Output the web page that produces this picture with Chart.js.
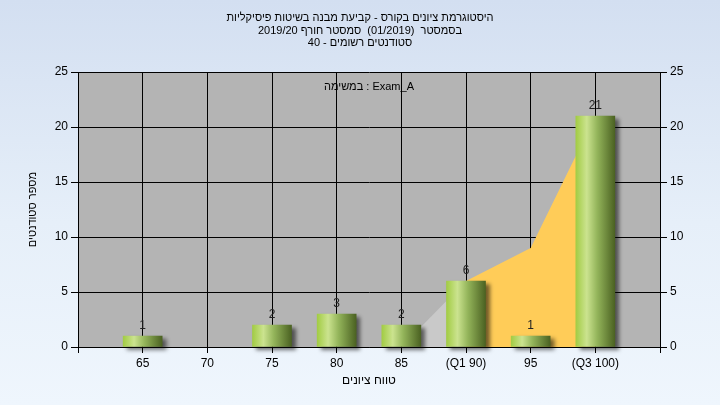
<!DOCTYPE html>
<html>
<head>
<meta charset="utf-8">
<script src="https://cdn.jsdelivr.net/npm/chart.js@4.4.1/dist/chart.umd.min.js"></script>
<style>
  html, body { margin: 0; padding: 0; }
  body {
    width: 720px; height: 405px; overflow: hidden;
    background: linear-gradient(to bottom, #d3dff1 0%, #e6eff9 55%, #eff6fd 100%);
  }
  #wrap { position: relative; width: 720px; height: 405px; }
</style>
</head>
<body>
<div id="wrap"><canvas id="chart" width="720" height="405"></canvas></div>
<script>
// Title lines
const titleLines = [
  'היסטוגרמת ציונים בקורס - קביעת מבנה בשיטות פיסיקליות',
  'בסמסטר  (01/2019)  סמסטר חורף 2019/20',
  'סטודנטים רשומים - 40'
];
const taskLabel = 'במשימה : Exam_A';
const xAxisTitle = 'טווח ציונים';
const yAxisTitle = 'מספר סטודנטים';

// Grade bins and student counts per bin
const gradeBins = ['65', '70', '75', '80', '85', '(Q1 90)', '95', '(Q3 100)'];
const studentCounts = [1, 0, 2, 3, 2, 6, 1, 21];
// Spread band drawn behind the bars (shaded from Q1 onwards)
const quartileBand = [0, 0, 0, 0, 0, 6, 9, 21];
const q1Index = 5;

// Count axis
const yMin = 0, yMax = 25, yStep = 5;

// One empty slot on each side so the bins sit inside the frame
const axisLabels = [''].concat(gradeBins, ['']);
const pad = arr => [null].concat(arr, [null]);

const FONT = '"Liberation Sans", Arial, "DejaVu Sans", sans-serif';
Chart.defaults.font.family = FONT;
Chart.defaults.color = '#000';

const BAR_W = 39;
const colors = {
  plot: '#b4b4b4',
  bandGray: '#c9c9c9',
  bandYellow: '#ffcc58',
  grid: '#000'
};

function barGradient(context) {
  const chart = context.chart;
  const x = chart.scales && chart.scales.x;
  if (context.raw === 0) return 'rgba(0,0,0,0)';
  if (!x || context.dataIndex == null) return '#9cc84a';
  const cx = x.getPixelForValue(context.dataIndex);
  if (!isFinite(cx)) return '#9cc84a';
  const g = chart.ctx.createLinearGradient(cx - BAR_W / 2, 0, cx + BAR_W / 2, 0);
  g.addColorStop(0.00, '#a2cc44');
  g.addColorStop(0.28, '#cbe38f');
  g.addColorStop(0.55, '#93b45a');
  g.addColorStop(1.00, '#4b6222');
  return g;
}

const plotBackground = {
  id: 'plotBackground',
  beforeDraw(chart) {
    const { ctx, chartArea: a } = chart;
    ctx.save();
    ctx.fillStyle = colors.plot;
    ctx.fillRect(a.left, a.top, a.right - a.left, a.bottom - a.top);
    ctx.restore();
  }
};

const taskCaption = {
  id: 'taskCaption',
  beforeDatasetsDraw(chart) {
    const { ctx, chartArea: a } = chart;
    ctx.save();
    ctx.font = '11px ' + FONT;
    ctx.fillStyle = '#000';
    ctx.textAlign = 'center';
    ctx.textBaseline = 'middle';
    ctx.fillText(taskLabel, (a.left + a.right) / 2, a.top + 14.5);
    ctx.restore();
  }
};

const barShadow = {
  id: 'barShadow',
  beforeDatasetDraw(chart, args) {
    if (args.meta.type !== 'bar') return;
    const ctx = chart.ctx;
    ctx.save();
    ctx.shadowColor = 'rgba(0,0,0,0.55)';
    ctx.shadowOffsetX = 4;
    ctx.shadowOffsetY = 3;
    ctx.shadowBlur = 4;
  },
  afterDatasetDraw(chart, args) {
    if (args.meta.type !== 'bar') return;
    chart.ctx.restore();
  }
};

const valueLabels = {
  id: 'valueLabels',
  afterDatasetsDraw(chart) {
    const meta = chart.getDatasetMeta(0);
    const data = chart.data.datasets[0].data;
    const ctx = chart.ctx;
    ctx.save();
    ctx.font = '12px ' + FONT;
    ctx.fillStyle = '#222';
    ctx.textAlign = 'center';
    ctx.textBaseline = 'alphabetic';
    meta.data.forEach((el, i) => {
      const v = data[i];
      if (v == null || v === 0) return;
      ctx.fillText(String(v), el.x, el.y - 7);
    });
    ctx.restore();
  }
};

new Chart(document.getElementById('chart'), {
  type: 'bar',
  data: {
    labels: axisLabels,
    datasets: [
      {
        type: 'bar',
        data: pad(studentCounts),
        backgroundColor: barGradient,
        borderWidth: 0,
        barThickness: BAR_W,
        clip: false
      },
      {
        type: 'line',
        data: pad(quartileBand),
        borderWidth: 0,
        borderColor: 'rgba(0,0,0,0)',
        pointRadius: 0,
        tension: 0,
        fill: 'origin',
        backgroundColor: colors.bandYellow,
        segment: {
          backgroundColor: c => (c.p0DataIndex >= q1Index + 1 ? colors.bandYellow : colors.bandGray)
        }
      }
    ]
  },
  options: {
    responsive: false,
    animation: false,
    devicePixelRatio: 1,
    layout: { padding: 0 },
    plugins: {
      legend: { display: false },
      tooltip: { enabled: false },
      title: {
        display: true,
        text: titleLines,
        color: '#000',
        font: { size: 11, lineHeight: 1.13, weight: 'normal' },
        padding: { top: 12, bottom: 22.8 }
      }
    },
    scales: {
      x: {
        type: 'category',
        offset: false,
        grid: { offset: false, color: colors.grid, tickLength: 6, lineWidth: 1 },
        border: { color: colors.grid },
        ticks: { autoSkip: false, maxRotation: 0, minRotation: 0, color: '#000', font: { size: 12 }, padding: 3 },
        title: { display: true, text: xAxisTitle, color: '#000', font: { size: 12 }, padding: { top: 0, bottom: 17 } },
        afterFit: s => { s.height = 58; }
      },
      y: {
        position: 'left',
        min: yMin, max: yMax,
        ticks: { stepSize: yStep, color: '#000', font: { size: 12 }, padding: 3 },
        grid: { color: colors.grid, tickLength: 7, lineWidth: 1 },
        border: { color: colors.grid },
        title: { display: true, text: yAxisTitle, color: '#000', font: { size: 11 }, padding: { top: 26, bottom: 0 } },
        afterFit: s => { s.width = 78; }
      },
      y2: {
        position: 'right',
        min: yMin, max: yMax,
        ticks: { stepSize: yStep, color: '#000', font: { size: 12 }, padding: 3 },
        grid: { drawOnChartArea: false, color: colors.grid, tickLength: 7 },
        border: { color: colors.grid },
        afterFit: s => { s.width = 60; }
      }
    }
  },
  plugins: [plotBackground, taskCaption, barShadow, valueLabels]
});
</script>
</body>
</html>
